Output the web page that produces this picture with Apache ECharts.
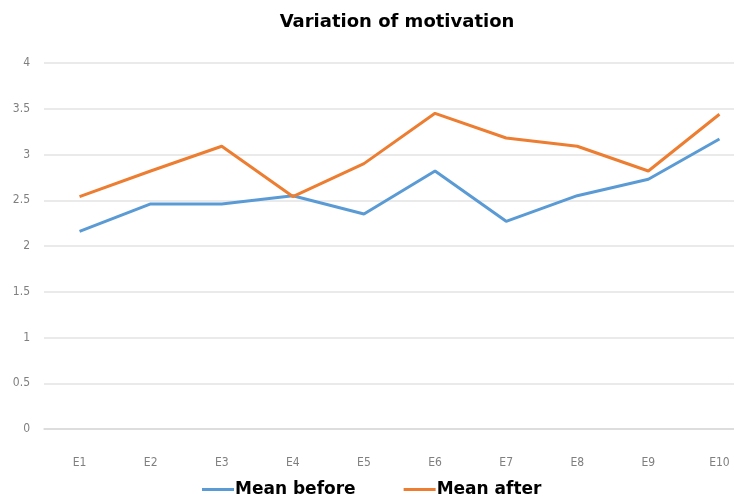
<!DOCTYPE html>
<html><head><meta charset="utf-8">
<script src="https://cdn.jsdelivr.net/npm/echarts@6/dist/echarts.min.js"></script>
<style>html,body{margin:0;padding:0;background:#fff;overflow:hidden;width:734px;height:503px}#c{width:755px;height:503px}</style>
</head><body><div id="c"></div>
<script>
const categories = ['E1','E2','E3','E4','E5','E6','E7','E8','E9','E10'];
const meanBefore = [2.16, 2.46, 2.46, 2.55, 2.35, 2.82, 2.27, 2.55, 2.73, 3.17];
const meanAfter  = [2.54, 2.82, 3.09, 2.54, 2.90, 3.45, 3.18, 3.09, 2.82, 3.44];
const yTicks = [0, 0.5, 1, 1.5, 2, 2.5, 3, 3.5, 4];

const chart = echarts.init(document.getElementById('c'));
chart.setOption({
  animation: false,
  title: {
    text: 'Variation of motivation', left: 392, textAlign: 'center', top: 8,
    textStyle: { fontFamily: 'DejaVu Sans', fontWeight: 'bold', fontSize: 18, color: '#000' }
  },
  grid: { left: 44, right: 0, top: 63, bottom: 74 },
  legend: {
    bottom: 0, left: 197, itemGap: 48, itemWidth: 32, itemHeight: 3,
    icon: 'rect',
    textStyle: { fontFamily: 'DejaVu Sans', fontWeight: 'bold', fontSize: 17, color: '#000', padding: [0,0,0,-4] },
    data: ['Mean before', 'Mean after']
  },
  xAxis: {
    type: 'category', data: categories, boundaryGap: true,
    axisLine: { show: true, lineStyle: { color: '#d9d9d9', width: 1.5 } },
    axisTick: { show: false },
    axisLabel: { color: '#7f7f7f', fontFamily: 'Liberation Sans Narrow, DejaVu Sans Condensed', fontSize: 12, margin: 28 }
  },
  yAxis: {
    type: 'value', min: 0, max: 4, interval: 0.5,
    axisLine: { show: false }, axisTick: { show: false },
    axisLabel: { color: '#7f7f7f', fontFamily: 'Liberation Sans Narrow, DejaVu Sans Condensed', fontSize: 12, margin: 14,
      formatter: v => yTicks.includes(v) ? String(v) : '' },
    splitLine: { lineStyle: { color: '#e3e3e3', width: 1.5 } }
  },
  series: [
    { name: 'Mean before', type: 'line', data: meanBefore, showSymbol: false, symbol: 'none',
      lineStyle: { color: '#5B9BD5', width: 3 }, itemStyle: { color: '#5B9BD5' } },
    { name: 'Mean after', type: 'line', data: meanAfter, showSymbol: false, symbol: 'none',
      lineStyle: { color: '#ED7D31', width: 3 }, itemStyle: { color: '#ED7D31' } }
  ]
});
</script></body></html>
